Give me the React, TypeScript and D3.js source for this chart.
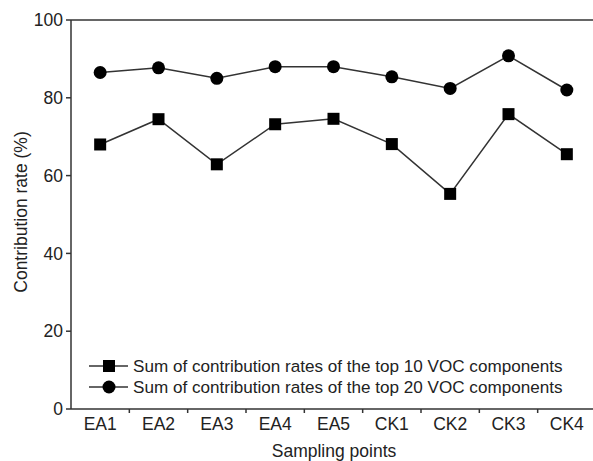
import React from "react";
import * as d3 from "d3";

const categories = ["EA1", "EA2", "EA3", "EA4", "EA5", "CK1", "CK2", "CK3", "CK4"];
const top10 = [68.0, 74.5, 62.9, 73.2, 74.6, 68.1, 55.3, 75.8, 65.5];
const top20 = [86.5, 87.7, 85.0, 88.0, 88.0, 85.4, 82.4, 90.8, 82.0];
const yTicks = [0, 20, 40, 60, 80, 100];
const legendLabels = [
  "Sum of contribution rates of the top 10 VOC components",
  "Sum of contribution rates of the top 20 VOC components",
];

const W = 593;
const H = 461;
const left = 71;
const top = 20;
const bottom = 409;
const right = 596;
const font = "Liberation Sans, Arial, sans-serif";
const ink = "#222";
const lineCol = "#333";

export default function App() {
  const x = d3.scaleBand<string>().domain(categories).range([left, right]).paddingInner(0).paddingOuter(0);
  const y = d3.scaleLinear().domain([0, 100]).range([bottom, top]);
  const cx = (c: string) => (x(c) as number) + x.bandwidth() / 2;
  const line = d3.line<number>().x((_, i) => cx(categories[i])).y((d) => y(d));
  const boundaries = categories.map((c) => x(c) as number).slice(1);
  const sq = 12;
  const r = 6.5;

  return (
    <svg width={W} height={H} style={{ position: "absolute", left: 0, top: 0, background: "#fff" }}>
      <rect x={0} y={0} width={W} height={H} fill="#fff" />
      {/* frame */}
      <line x1={left} x2={W} y1={top} y2={top} stroke={lineCol} strokeWidth={1.5} />
      <line x1={left} x2={W} y1={bottom} y2={bottom} stroke={lineCol} strokeWidth={1.5} />
      <line x1={left} x2={left} y1={top} y2={bottom} stroke={lineCol} strokeWidth={1.5} />
      {/* y ticks */}
      {yTicks.map((t) => (
        <g key={t}>
          <line x1={left - 5} x2={left} y1={y(t)} y2={y(t)} stroke={lineCol} strokeWidth={1.5} />
          <text x={left - 8} y={y(t)} dy="0.35em" textAnchor="end" fontFamily={font} fontSize={17.5} fill={ink}>
            {t}
          </text>
        </g>
      ))}
      {/* x ticks */}
      {boundaries.map((b, i) => (
        <line key={i} x1={b} x2={b} y1={bottom} y2={bottom + 4} stroke={lineCol} strokeWidth={1.5} />
      ))}
      {categories.map((c) => (
        <text key={c} x={cx(c)} y={bottom + 21} textAnchor="middle" fontFamily={font} fontSize={17.5} fill={ink}>
          {c}
        </text>
      ))}
      {/* titles */}
      <text
        transform={`translate(27, ${212}) rotate(-90)`}
        textAnchor="middle"
        fontFamily={font}
        fontSize={17.5}
        fill={ink}
      >
        Contribution rate (%)
      </text>
      <text x={334} y={457} textAnchor="middle" fontFamily={font} fontSize={17.5} fill={ink}>
        Sampling points
      </text>
      {/* series */}
      <path d={line(top10) || ""} fill="none" stroke={lineCol} strokeWidth={1.5} />
      <path d={line(top20) || ""} fill="none" stroke={lineCol} strokeWidth={1.5} />
      {top10.map((v, i) => (
        <rect key={i} x={cx(categories[i]) - sq / 2} y={y(v) - sq / 2} width={sq} height={sq} fill="#000" />
      ))}
      {top20.map((v, i) => (
        <circle key={i} cx={cx(categories[i])} cy={y(v)} r={r} fill="#000" />
      ))}
      {/* legend */}
      {legendLabels.map((lab, i) => {
        const ly = 366 + i * 21;
        return (
          <g key={i}>
            <line x1={89} x2={128} y1={ly} y2={ly} stroke={lineCol} strokeWidth={1.5} />
            {i === 0 ? (
              <rect x={109 - sq / 2} y={ly - sq / 2} width={sq} height={sq} fill="#000" />
            ) : (
              <circle cx={109} cy={ly} r={r} fill="#000" />
            )}
            <text x={133} y={ly} dy="0.35em" fontFamily={font} fontSize={17.1} fill={ink}>
              {lab}
            </text>
          </g>
        );
      })}
    </svg>
  );
}
